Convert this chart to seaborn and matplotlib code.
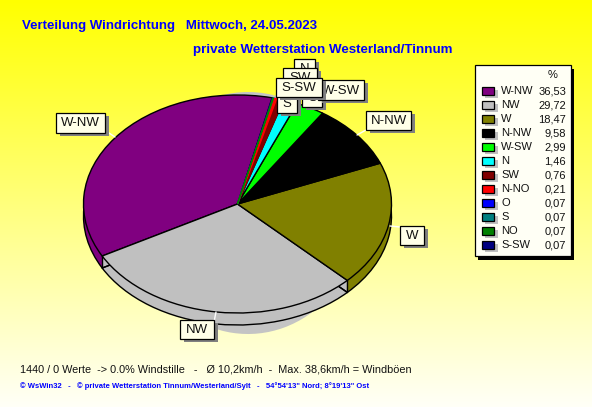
import numpy as np
import pandas as pd
import seaborn as sns
import matplotlib.pyplot as plt
from matplotlib.patches import Rectangle

sns.set_theme(style="white")
plt.rcParams["font.family"] = ["Liberation Sans", "DejaVu Sans"]

directions = ["W-NW", "NW", "W", "N-NW", "W-SW", "N", "SW", "N-NO", "O", "S", "NO", "S-SW"]
shares = [36.53, 29.72, 18.47, 9.58, 2.99, 1.46, 0.76, 0.21, 0.07, 0.07, 0.07, 0.07]
share_labels = ["36,53", "29,72", "18,47", "9,58", "2,99", "1,46", "0,76", "0,21", "0,07", "0,07", "0,07", "0,07"]
colors = ["#800080", "#C0C0C0", "#808000", "#000000", "#00FF00", "#00FFFF",
          "#800000", "#FF0000", "#0000FF", "#008080", "#008000", "#000080"]

df = pd.DataFrame({"direction": directions, "share": shares, "label": share_labels, "color": colors})

W, H = 592, 407
START = 77
CX, CY, RX, RY = 237.5, 204, 154, 109
DEPTH = 12

fig = plt.figure(figsize=(W / 100, H / 100), dpi=100)

# gradient background and pixel coordinates for boxes and text
bg = fig.add_axes([0, 0, 1, 1], zorder=0)
grad = np.linspace(0, 0.97, 256).reshape(-1, 1)
rgb = np.dstack([np.ones_like(grad), np.ones_like(grad), grad])
bg.imshow(rgb, extent=(0, W, H, 0), aspect="auto")
bg.set_xlim(0, W)
bg.set_ylim(H, 0)
bg.axis("off")


def draw_pie(cx, cy, rx, ry, z, colors, edge=None, lw=0):
    ax = fig.add_axes([(cx - rx) / W, 1 - (cy + ry) / H, 2 * rx / W, 2 * ry / H], zorder=z)
    ax.patch.set_alpha(0)
    wedges, _ = ax.pie(df["share"], colors=colors, startangle=START, counterclock=True, radius=1,
                       wedgeprops={"edgecolor": edge if edge else "none", "linewidth": lw})
    ax.set_aspect("auto")
    ax.set_xlim(-1, 1)
    ax.set_ylim(-1, 1)
    ax.axis("off")
    return wedges


# soft grey shadow behind the pie
draw_pie(248, 213, 112, 121, 1, ["#C4C4C4"] * len(df))

# side wall, stacked one pixel at a time
for d in range(DEPTH, 0, -1):
    draw_pie(CX, CY + d, RX, RY, 2 + (DEPTH - d) * 0.01, list(df["color"]))

# outline of the bottom rim
draw_pie(CX, CY + DEPTH, RX, RY, 2.5, ["none"] * len(df), edge="black", lw=1)

# top face, the tiny slices keep their colour instead of a black outline
top = draw_pie(CX, CY, RX, RY, 3, list(df["color"]), edge="black", lw=1)
for w, row in zip(top, df.itertuples()):
    if row.share < 1:
        w.set_edgecolor(row.color)
        w.set_linewidth(0.9)
    if row.direction in ("NO", "N-NO"):
        w.set_zorder(3)

over = fig.add_axes([0, 0, 1, 1], zorder=5)
over.set_xlim(0, W)
over.set_ylim(H, 0)
over.axis("off")
over.patch.set_alpha(0)

# wall edges at the slices facing the viewer
angles = START + np.cumsum(df["share"]) / df["share"].sum() * 360
for a in angles[:2]:
    x = CX + RX * np.cos(np.radians(a))
    y = CY - RY * np.sin(np.radians(a))
    over.plot([x, x], [y, y + DEPTH], color="black", lw=1)

# white leader lines from the boxes to the pie
leaders = [((109, 133), (115, 137)), ((366, 130), (357, 135)), ((216, 312), (214, 322)), ((390, 226), (400, 227))]
for (x0, y0), (x1, y1) in leaders:
    over.plot([x0, x1], [y0, y1], color="white", lw=1, zorder=6)

# callout boxes, drawn in this order so the tiny slices pile up as they do in the chart
callouts = [
    ("W-NW", 56, 113, 49, 20),
    ("N-NW", 366, 111, 45, 19),
    ("W", 400, 226, 24, 19),
    ("NW", 180, 320, 34, 19),
    ("N", 294, 59, 21, 19),
    ("N-NO", 283, 78, 38, 18),
    ("NO", 288, 78, 32, 18),
    ("O", 302, 88, 20, 19),
    ("S", 277, 94, 20, 19),
    ("SW", 283, 68, 34, 19),
    ("W-SW", 318, 80, 46, 20),
    ("S-SW", 276, 78, 46, 19),
]
for i, (name, x, y, w, h) in enumerate(callouts):
    z = 10 + i
    over.add_patch(Rectangle((x + 4, y + 3), w, h, fc="#808080", ec="none", zorder=z))
    over.add_patch(Rectangle((x, y), w, h, fc="#FFFFE8", ec="black", lw=0.9, zorder=z))
    over.text(x + w / 2, y + h / 2 + 0.5, name, ha="center", va="center", fontsize=9.5,
              color="#111111", zorder=z, clip_on=True)

# legend panel
over.add_patch(Rectangle((478, 69), 96, 191, fc="black", ec="none", zorder=30))
over.add_patch(Rectangle((474.5, 65), 96, 191, fc="#FFFFF5", ec="black", lw=0.9, zorder=31))
over.text(553, 75, "%", ha="center", va="center", fontsize=8, color="#111111", zorder=32)
for i, row in df.iterrows():
    y = 91 + i * 14
    over.add_patch(Rectangle((485, y - 1), 13, 8, fc="#C0C0C0", ec="none", zorder=32))
    over.add_patch(Rectangle((481.5, y - 4), 12.5, 8, fc=row["color"], ec="black", lw=0.9, zorder=33))
    over.text(501, y + 0.5, row["direction"], ha="left", va="center", fontsize=8, color="#111111", zorder=33)
    over.text(566, y + 0.5, row["label"], ha="right", va="center", fontsize=8, color="#111111", zorder=33)

# titles and footer
over.text(22, 25.5, "Verteilung Windrichtung   Mittwoch, 24.05.2023", color="#0000FF",
          fontsize=9.5, fontweight="bold", ha="left", va="center")
over.text(193, 49.5, "private Wetterstation Westerland/Tinnum", color="#0000FF",
          fontsize=9.6, fontweight="bold", ha="left", va="center")
over.text(20, 369, "1440 / 0 Werte  -> 0.0% Windstille   -   Ø 10,2km/h  -  Max. 38,6km/h = Windböen",
          color="#111111", fontsize=7.8, ha="left", va="center")
over.text(20, 386, "© WsWin32   -   © private Wetterstation Tinnum/Westerland/Sylt   -   54°54'13\" Nord; 8°19'13\" Ost",
          color="#0000FF", fontsize=5.5, fontweight="bold", ha="left", va="center")

fig.savefig("out.png", dpi=100)
